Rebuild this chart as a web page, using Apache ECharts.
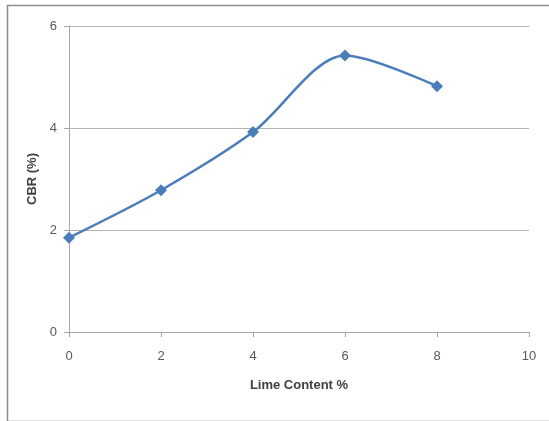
<!DOCTYPE html>
<html>
<head>
<meta charset="utf-8">
<script src="https://cdn.jsdelivr.net/npm/echarts@6/dist/echarts.min.js"></script>
<style>html,body{margin:0;padding:0;background:#fff;}#c{width:549px;height:421px;}</style>
</head>
<body>
<div id="c"></div>
<script>
const limeContent = [0, 2, 4, 6, 8];
const cbrValues = [1.85, 2.78, 3.92, 5.42, 4.82];
const xTitle = 'Lime Content %';
const yTitle = 'CBR (%)';

const chart = echarts.init(document.getElementById('c'), null, {renderer: 'canvas'});
const labelColor = '#595959';
const fontFam = '"Liberation Sans", Arial, sans-serif';
chart.setOption({
  animation: false,
  backgroundColor: '#fff',
  graphic: [{
    type: 'rect', left: 5, top: 3,
    shape: {width: 560, height: 416},
    style: {fill: 'none', stroke: '#8c8c8c', lineWidth: 1.5}
  }],
  grid: {left: 69, right: 20, top: 26, bottom: 89, containLabel: false},
  xAxis: {
    type: 'value', min: 0, max: 10, interval: 2,
    name: xTitle, nameLocation: 'middle', nameGap: 47,
    nameTextStyle: {fontFamily: fontFam, fontSize: 13, fontWeight: 'bold', color: '#404040'},
    axisLine: {show: true, lineStyle: {color: '#a6a6a6', width: 1}},
    axisTick: {show: true, length: 5, lineStyle: {color: '#a6a6a6'}},
    axisLabel: {fontFamily: fontFam, fontSize: 13, color: labelColor, margin: 18},
    splitLine: {show: false}
  },
  yAxis: {
    type: 'value', min: 0, max: 6, interval: 2,
    name: yTitle, nameLocation: 'middle', nameGap: 23, nameRotate: 90,
    nameTextStyle: {fontFamily: fontFam, fontSize: 13, fontWeight: 'bold', color: '#404040'},
    axisLine: {show: true, lineStyle: {color: '#a6a6a6', width: 1}},
    axisTick: {show: true, length: 5, lineStyle: {color: '#a6a6a6'}},
    axisLabel: {fontFamily: fontFam, fontSize: 13, color: labelColor, margin: 12},
    splitLine: {show: true, lineStyle: {color: '#b3b3b3', width: 1.2}}
  },
  series: [{
    type: 'line',
    data: limeContent.map((x, i) => [x, cbrValues[i]]),
    smooth: 0.3,
    symbol: 'diamond', symbolSize: 12,
    lineStyle: {color: '#4a7ebb', width: 2.5},
    itemStyle: {color: '#4a7ebb'}
  }]
});
</script>
</body>
</html>
